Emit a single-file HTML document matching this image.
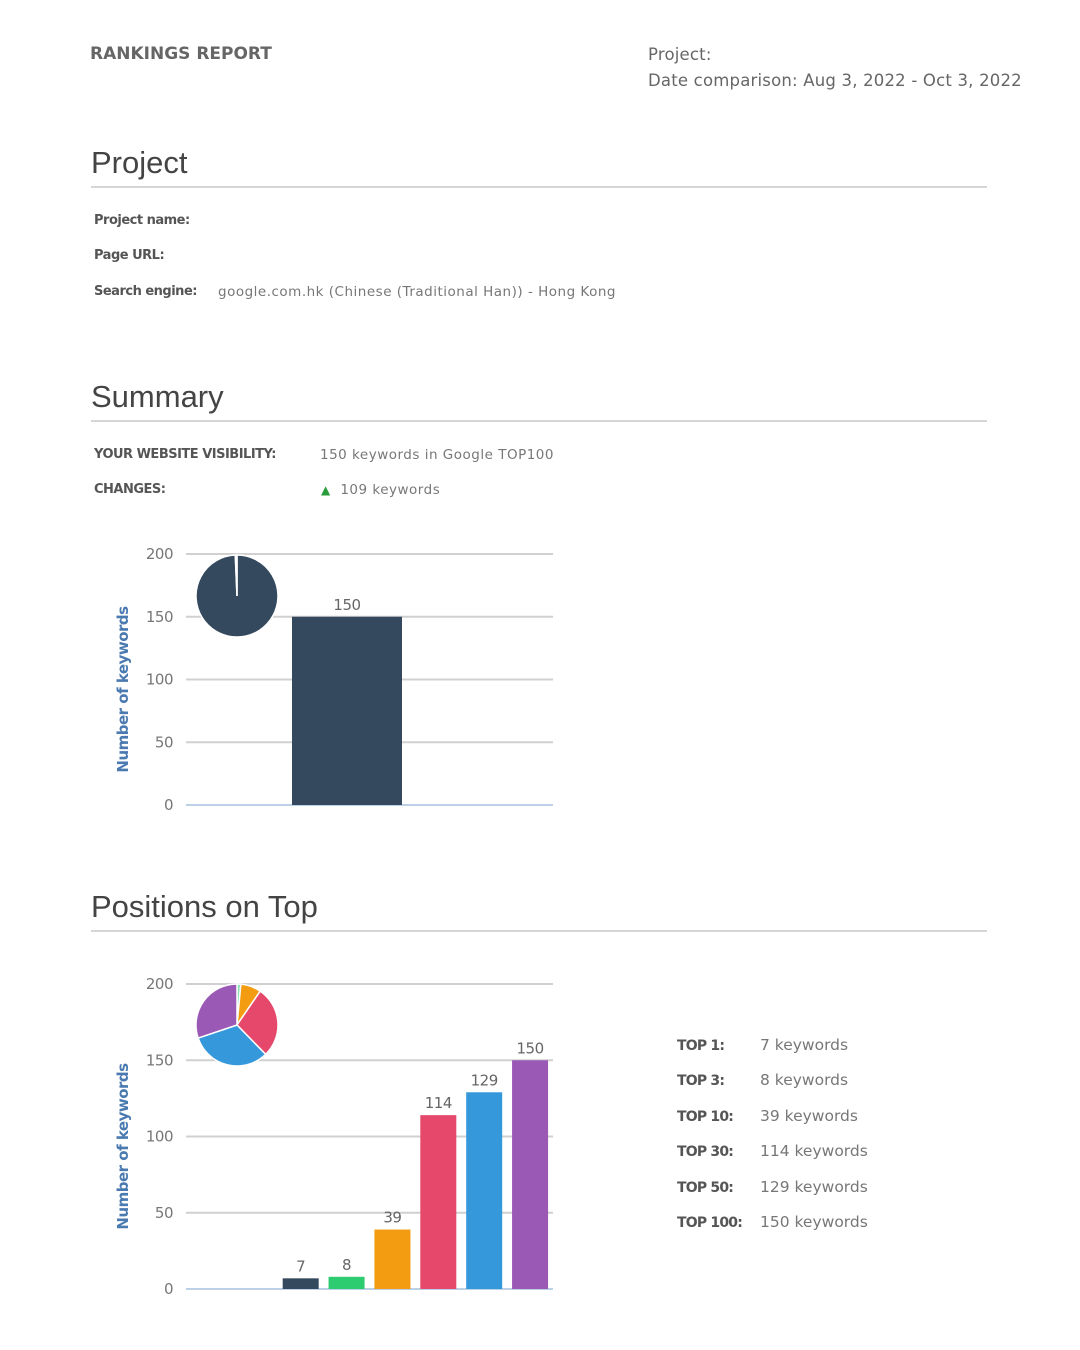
<!DOCTYPE html>
<html><head><meta charset="utf-8">
<style>
body{margin:0;width:1080px;height:1350px;background:#fff;font-family:"Liberation Sans",sans-serif;position:relative;overflow:hidden}
.a{position:absolute;white-space:nowrap}
.h{font-size:31px;color:#444}
.hr{position:absolute;left:91px;width:896px;height:2px;background:#d6d6d6}
.lbl{font-family:"DejaVu Sans",sans-serif;font-size:13px;font-weight:bold;color:#555;letter-spacing:-0.5px}
.val{font-family:"DejaVu Sans",sans-serif;font-size:13.5px;color:#777;letter-spacing:0.5px}
.r{font-family:"DejaVu Sans",sans-serif;color:#666;letter-spacing:0.2px}
</style></head><body>
<div class="a" style="left:90px;top:44px;font-family:'DejaVu Sans',sans-serif;font-size:17px;font-weight:bold;color:#666;letter-spacing:0px">RANKINGS REPORT</div>
<div class="a r" style="left:648px;top:45px;font-size:16.5px">Project:</div>
<div class="a r" style="left:648px;top:71px;font-size:16.5px">Date comparison: Aug 3, 2022 - Oct 3, 2022</div>

<div class="a h" style="left:91px;top:145px">Project</div>
<div class="hr" style="top:186px"></div>
<div class="a lbl" style="left:94px;top:213px">Project name:</div>
<div class="a lbl" style="left:94px;top:248px">Page URL:</div>
<div class="a lbl" style="left:94px;top:284px">Search engine:</div>
<div class="a val" style="left:218px;top:284px">google.com.hk (Chinese (Traditional Han)) - Hong Kong</div>

<div class="a h" style="left:91px;top:379px">Summary</div>
<div class="hr" style="top:420px"></div>
<div class="a lbl" style="left:94px;top:447px">YOUR WEBSITE VISIBILITY:</div>
<div class="a val" style="left:320px;top:447px">150 keywords in Google TOP100</div>
<div class="a lbl" style="left:94px;top:482px">CHANGES:</div>
<div class="a val" style="left:321px;top:482px"><span style="color:#2a9d3a;font-size:12px">▲</span>&nbsp; 109 keywords</div>

<svg id="c1" class="a" style="left:0;top:530px" width="600" height="300"></svg>

<div class="a h" style="left:91px;top:889px">Positions on Top</div>
<div class="hr" style="top:930px"></div>
<svg id="c2" class="a" style="left:0;top:960px" width="600" height="350"></svg>

<div id="leg" class="a" style="left:677px;top:1036px"></div>

<script>
const summaryCats=["TOP100"];
const summaryVals=[150];
const posCats=["","","TOP 1","TOP 3","TOP 10","TOP 30","TOP 50","TOP 100"];
const posVals=[0,0,7,8,39,114,129,150];
const posColors=["#34495e","#34495e","#34495e","#2ecc71","#f39c12","#e5486a","#3498db","#9b59b6"];
const yTicks=[0,50,100,150,200];
const pie1Vals=[149,1];
const pie2Vals=[1.5,8,28,32,30];
const pie2Colors=["#8fdcb4","#f39c12","#e5486a","#3498db","#9b59b6"];
const legLabels=["TOP 1:","TOP 3:","TOP 10:","TOP 30:","TOP 50:","TOP 100:"];
const legVals=[7,8,39,114,129,150];
const NS="http://www.w3.org/2000/svg";
function mk(svg,t,at,txt){const e=document.createElementNS(NS,t);for(const k in at)e.setAttribute(k,at[k]);if(txt!==undefined)e.textContent=txt;svg.appendChild(e);return e;}
function axis(svg,y0,y200){
  const ys=v=>y0-(y0-y200)*v/200;
  yTicks.forEach(t=>{
    const l=mk(svg,"line",{x1:186,x2:553,y1:ys(t),y2:ys(t),stroke:t?"#d0d0d0":"#bcd0e6","stroke-width":2});
    
    
    const tx=mk(svg,"text",{x:173,y:ys(t)+5,"text-anchor":"end","font-size":15,fill:"#777","font-family":"DejaVu Sans","letter-spacing":"-0.5"},t);
    
    
  });
  const mid=(y0+y200)/2+10;
  const tt=mk(svg,"text",{x:0,y:0,transform:`translate(128,${mid}) rotate(-90)`,"text-anchor":"middle","font-size":15,"font-weight":"bold",fill:"#4a7ab0","font-family":"DejaVu Sans","letter-spacing":"-0.5"},"Number of keywords");
  
  
  return ys;
}
function pie(svg,cx,cy,r,vals,cols){
  const tot=vals.reduce((a,b)=>a+b,0);let a=0;
  vals.forEach((v,i)=>{
    const a1=a+v/tot*2*Math.PI;
    const p=(t)=>[cx+r*Math.sin(t),cy-r*Math.cos(t)];
    const [x0,y0]=p(a),[x1,y1]=p(a1);
    const s=mk(svg,"path",{d:`M${cx},${cy}L${x0},${y0}A${r},${r} 0 ${a1-a>Math.PI?1:0} 1 ${x1},${y1}Z`,fill:cols[i],stroke:"#fff","stroke-width":1.5});
    
    
    a=a1;
  });
}
const c1=document.getElementById('c1');
const ys1=axis(c1,805-530,554-530);
summaryVals.forEach((v,i)=>{
  const x=292,w=110;
  const b=mk(c1,"rect",{x:x,y:ys1(v),width:w,height:ys1(0)-ys1(v),fill:"#34495e"});
  
  
  const t=mk(c1,"text",{x:x+w/2,y:ys1(v)-7,"text-anchor":"middle","font-size":15,fill:"#666","font-family":"DejaVu Sans","letter-spacing":"-0.5"},v);
  
  
});
pie(c1,237,596-530,41,pie1Vals,["#34495e","#e8eef3"]);
const c2=document.getElementById('c2');
const ys2=axis(c2,1289-960,984-960);
const slot=(553-186)/posCats.length;
posVals.forEach((v,i)=>{
  if(!v)return;
  const w=36,x=186+slot*(i+0.5)-w/2;
  const b=mk(c2,"rect",{x:x,y:ys2(v),width:w,height:ys2(0)-ys2(v),fill:posColors[i]});
  
  
  const t=mk(c2,"text",{x:x+w/2,y:ys2(v)-7,"text-anchor":"middle","font-size":15,fill:"#666","font-family":"DejaVu Sans","letter-spacing":"-0.5"},v);
  
  
});
pie(c2,237,1025-960,41,pie2Vals,pie2Colors);
const leg=document.getElementById('leg');
legLabels.forEach((l,i)=>{
  const d=document.createElement('div');
  
  
  d.style.cssText="height:35.4px;font-size:15.5px;white-space:nowrap;font-family:'DejaVu Sans',sans-serif;letter-spacing:0px";
  d.innerHTML=`<span style="display:inline-block;width:83px;font-weight:bold;color:#555;font-size:14px;letter-spacing:-0.8px">${l}</span><span style="color:#777">${legVals[i]} keywords</span>`;
  leg.appendChild(d);
});
</script>
</body></html>
